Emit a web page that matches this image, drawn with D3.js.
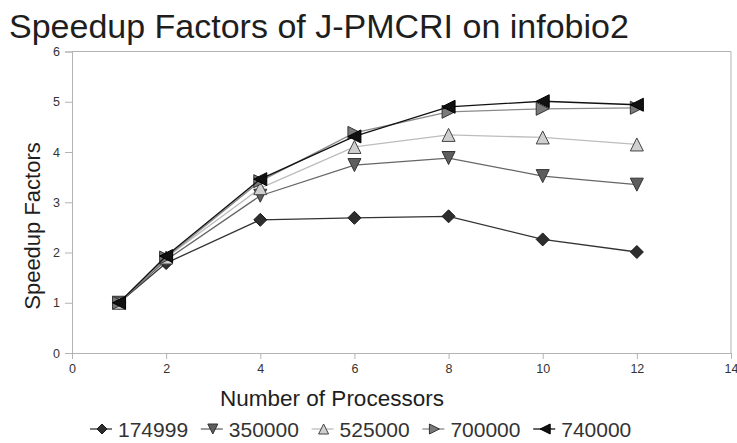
<!DOCTYPE html>
<html>
<head>
<meta charset="utf-8">
<script src="https://cdn.jsdelivr.net/npm/d3@7"></script>
<style>
  html, body { margin: 0; padding: 0; background: #fff; }
  svg { display: block; font-family: 'Liberation Sans', Arial, sans-serif; }
</style>
</head>
<body>
<div id="chart"></div>
<script>
// Speedup factors chart, one line per dataset size

var PROCESSORS = [1, 2, 4, 6, 8, 10, 12];
var SERIES_NAMES = ['174999', '350000', '525000', '700000', '740000'];
var S_174999 = [1, 1.79, 2.65, 2.69, 2.72, 2.26, 2.01];
var S_350000 = [1, 1.85, 3.13, 3.74, 3.88, 3.52, 3.35];
var S_525000 = [1, 1.9, 3.28, 4.1, 4.34, 4.29, 4.15];
var S_700000 = [1, 1.9, 3.42, 4.38, 4.8, 4.86, 4.88];
var S_740000 = [1, 1.93, 3.46, 4.31, 4.9, 5.01, 4.94];
var X_TICKS = [0, 2, 4, 6, 8, 10, 12, 14];
var Y_TICKS = [0, 1, 2, 3, 4, 5, 6];

var W = 737, H = 443;

var seriesList = [
  { name: SERIES_NAMES[0], values: S_174999, shape: 'diamond', line: '#333', fill: '#2e2e2e', stroke: '#1a1a1a' },
  { name: SERIES_NAMES[1], values: S_350000, shape: 'down', line: '#666', fill: '#5e5e5e', stroke: '#333' },
  { name: SERIES_NAMES[2], values: S_525000, shape: 'up', line: '#bdbdbd', fill: '#cfcfcf', stroke: '#444' },
  { name: SERIES_NAMES[3], values: S_700000, shape: 'right', line: '#8a8a8a', fill: '#7a7a7a', stroke: '#333' },
  { name: SERIES_NAMES[4], values: S_740000, shape: 'left', line: '#111', fill: '#111', stroke: '#000' }
];

// marker path centred on 0,0
function markerPath(shape, r) {
  if (shape === 'diamond') return 'M0,' + (-r) + 'L' + r + ',0L0,' + r + 'L' + (-r) + ',0Z';
  if (shape === 'down') return 'M' + (-r) + ',' + (-r) + 'L' + r + ',' + (-r) + 'L0,' + r + 'Z';
  if (shape === 'up') return 'M' + (-r) + ',' + r + 'L' + r + ',' + r + 'L0,' + (-r) + 'Z';
  if (shape === 'right') return 'M' + (-r) + ',' + (-r) + 'L' + r + ',0L' + (-r) + ',' + r + 'Z';
  return 'M' + r + ',' + (-r) + 'L' + (-r) + ',0L' + r + ',' + r + 'Z';
}

var svg = d3.select('#chart').append('svg')
  .attr('width', W)
  .attr('height', H);

var x = d3.scaleLinear().domain([0, 14]).range([72, 731]);
var y = d3.scaleLinear().domain([0, 6]).range([353, 51.5]);

// title
svg.append('text')
  .attr('x', 9)
  .attr('y', 38)
  .attr('font-size', 34)
  .attr('fill', '#1e1e1e')
  .text('Speedup Factors of J-PMCRI on infobio2');

// plot frame (top + right)
svg.append('path')
  .attr('d', 'M' + x(0) + ',' + y(6) + 'H' + x(14) + 'V' + y(0))
  .attr('fill', 'none')
  .attr('stroke', '#b3b3b3')
  .attr('stroke-width', 1);

// axes
var xAxis = svg.append('g')
  .attr('transform', 'translate(0,' + y(0) + ')')
  .call(d3.axisBottom(x).tickValues(X_TICKS).tickSize(6).tickPadding(5).tickFormat(d3.format('d')));

var yAxis = svg.append('g')
  .attr('transform', 'translate(' + x(0) + ',0)')
  .call(d3.axisLeft(y).tickValues(Y_TICKS).tickSize(7).tickPadding(5).tickFormat(d3.format('d')));

[xAxis, yAxis].forEach(function (g) {
  g.select('.domain').attr('stroke', '#b3b3b3');
  g.selectAll('.tick line').attr('stroke', '#b3b3b3');
  g.selectAll('.tick text')
    .attr('fill', '#333')
    .attr('font-size', 12.5)
    .attr('font-family', "'Liberation Sans', Arial, sans-serif");
});

// axis titles
svg.append('text')
  .attr('x', 332)
  .attr('y', 406)
  .attr('text-anchor', 'middle')
  .attr('font-size', 22.5)
  .attr('fill', '#1e1e1e')
  .text('Number of Processors');

svg.append('text')
  .attr('transform', 'translate(40,226) rotate(-90)')
  .attr('text-anchor', 'middle')
  .attr('font-size', 22)
  .attr('fill', '#1e1e1e')
  .text('Speedup Factors');

// lines and markers
var line = d3.line()
  .x(function (d, i) { return x(PROCESSORS[i]); })
  .y(function (d) { return y(d); });

var groups = svg.selectAll('.series')
  .data(seriesList)
  .join('g')
  .attr('class', 'series');

groups.append('path')
  .attr('d', function (s) { return line(s.values); })
  .attr('fill', 'none')
  .attr('stroke', function (s) { return s.line; })
  .attr('stroke-width', 1.3);

groups.each(function (s) {
  d3.select(this).selectAll('.mark')
    .data(s.values)
    .join('path')
    .attr('class', 'mark')
    .attr('transform', function (d, i) { return 'translate(' + x(PROCESSORS[i]) + ',' + y(d) + ')'; })
    .attr('d', markerPath(s.shape, 6.5))
    .attr('fill', s.fill)
    .attr('stroke', s.stroke)
    .attr('stroke-width', 1);
});

// legend
var legend = svg.append('g')
  .attr('transform', 'translate(90,429)');

var items = legend.selectAll('.item')
  .data(seriesList)
  .join('g')
  .attr('class', 'item')
  .attr('transform', function (s, i) { return 'translate(' + (i * 110.8) + ',0)'; });

items.append('line')
  .attr('x1', 0).attr('x2', 22)
  .attr('y1', 0).attr('y2', 0)
  .attr('stroke', function (s) { return s.line; })
  .attr('stroke-width', 1.3);

items.append('path')
  .attr('transform', 'translate(12,0)')
  .attr('d', function (s) { return markerPath(s.shape, 5); })
  .attr('fill', function (s) { return s.fill; })
  .attr('stroke', function (s) { return s.stroke; })
  .attr('stroke-width', 1);

items.append('text')
  .attr('x', 28)
  .attr('y', 7.5)
  .attr('font-size', 21)
  .attr('fill', '#333')
  .text(function (s) { return s.name; });
</script>
</body>
</html>
